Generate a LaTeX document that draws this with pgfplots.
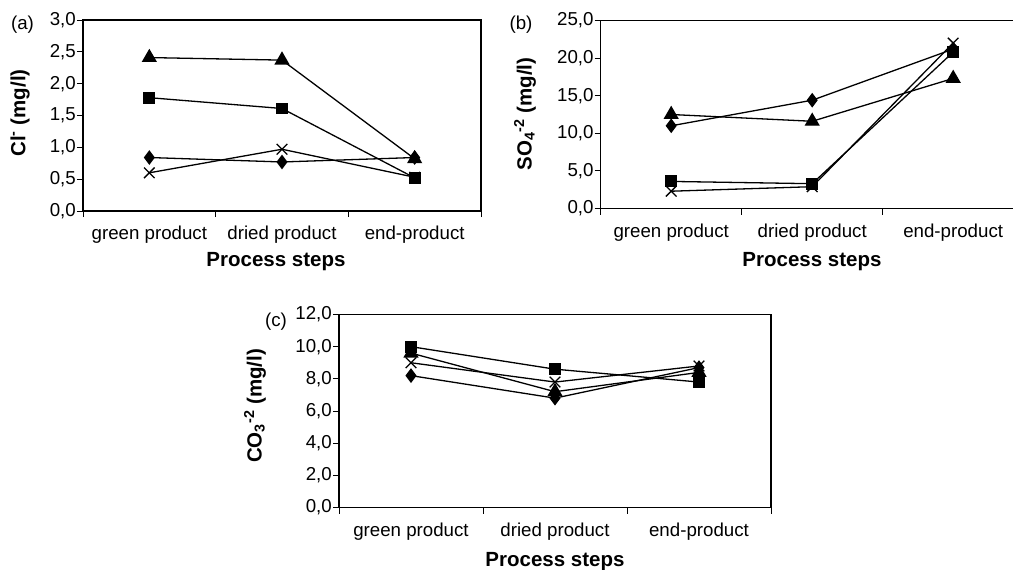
\documentclass[border=0pt]{standalone}
\usepackage{fontspec}
\setmainfont{Liberation Sans}
\usepackage{pgfplots}
\pgfplotsset{compat=1.18}

\pgfplotsset{
  panel/.style={
    scale only axis, anchor=south west, clip=false,
    axis line style={line width=1.1pt},
    tick align=outside, tick pos=left, major tick length=6pt,
    every tick/.style={black, line width=1pt},
    xmin=-0.5, xmax=2.5, ymin=0,
    xtick={-0.5,0.5,1.5,2.5}, xticklabels={},
    extra x ticks={0,1,2},
    extra x tick labels={green product,dried product,end-product},
    extra x tick style={tick style={draw=none}},
    ticklabel style={font=\fontsize{18.7}{22}\selectfont},
    xticklabel style={inner sep=2pt, yshift=-7pt},
    yticklabel style={inner sep=1pt},
    y tick label style={/pgf/number format/.cd, fixed, fixed zerofill, precision=1, use comma, assume math mode=true},
    every axis plot/.append style={black, line width=1.3pt},
  },
  stri/.style={mark=triangle*, mark size=7.5pt, mark options={solid}},
  ssq/.style={mark=square*, mark size=5.3pt, mark options={solid}},
  sdia/.style={mark=diamond*, mark size=6.3pt, mark options={solid}},
  sx/.style={mark=x, mark size=7.5pt, mark options={solid, line width=1.3pt}},
}

\begin{document}
\begin{tikzpicture}[x=1pt,y=1pt]
\useasboundingbox (0,0) rectangle (1013,-570);

% ---------- (a) ----------
\begin{axis}[panel, at={(83pt,-211pt)}, width=398pt, height=191pt,
  ymax=3, ytick={0,0.5,...,3}]
\addplot[sdia] coordinates {(0,0.84) (1,0.77) (2,0.84)};
\addplot[ssq]  coordinates {(0,1.78) (1,1.61) (2,0.52)};
\addplot[stri] coordinates {(0,2.41) (1,2.37) (2,0.82)};
\addplot[sx]   coordinates {(0,0.60) (1,0.97) (2,0.53)};
\end{axis}

% ---------- (b) ----------
\begin{axis}[panel, at={(600.7pt,-208.5pt)}, width=423pt, height=188pt,
  ymax=25, ytick={0,5,...,25}]
\addplot[sdia] coordinates {(0,11.0) (1,14.4) (2,21.2)};
\addplot[ssq]  coordinates {(0,3.6) (1,3.3) (2,20.8)};
\addplot[stri] coordinates {(0,12.5) (1,11.6) (2,17.3)};
\addplot[sx]   coordinates {(0,2.3) (1,2.9) (2,22.0)};
\end{axis}

% ---------- (c) ----------
\begin{axis}[panel, at={(339pt,-507.5pt)}, width=432pt, height=193pt,
  ymax=12, ytick={0,2,...,12}]
\addplot[sdia] coordinates {(0,8.2) (1,6.8) (2,8.7)};
\addplot[ssq]  coordinates {(0,10.0) (1,8.6) (2,7.8)};
\addplot[stri] coordinates {(0,9.6) (1,7.2) (2,8.4)};
\addplot[sx]   coordinates {(0,9.0) (1,7.8) (2,8.8)};
\end{axis}

% ---------- labels ----------
\begin{scope}[every node/.style={font=\fontsize{18.7}{22}\selectfont, inner sep=0pt}]
\node at (22.5,-25) {(a)};
\node at (521,-25) {(b)};
\node at (276,-322) {(c)};
\end{scope}
\begin{scope}[every node/.style={font=\fontsize{20.5}{24}\selectfont\bfseries, inner sep=0pt}]
\node[rotate=90] at (20,-113) {Cl\textsuperscript{-} (mg/l)};
\node[rotate=90] at (525,-114) {SO\textsubscript{4}\textsuperscript{-2} (mg/l)};
\node[rotate=90] at (255,-406) {CO\textsubscript{3}\textsuperscript{-2} (mg/l)};
\node at (276,-262) {Process steps};
\node at (812,-262) {Process steps};
\node at (555,-562) {Process steps};
\end{scope}
\end{tikzpicture}
\end{document}
